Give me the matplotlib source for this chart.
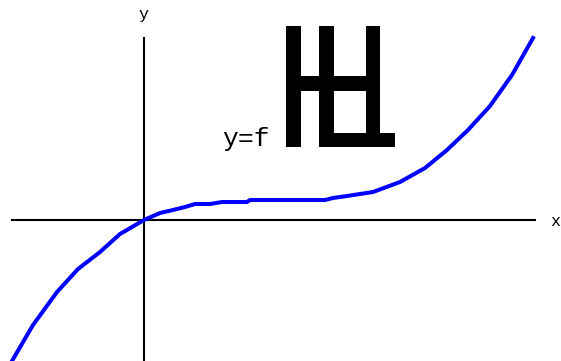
import matplotlib.pyplot as plt
from matplotlib.patches import Rectangle

# curve samples (origin at axes crossing)
curve_x = [-1.32, -1.11, -0.87, -0.66, -0.44, -0.24, 0.0, 0.16, 0.29, 0.41, 0.51,
           0.66, 0.78, 1.03, 1.06, 1.29, 1.81, 1.89, 2.03, 2.29, 2.56, 2.81,
           3.03, 3.24, 3.46, 3.68, 3.89]
curve_y = [-1.41, -1.05, -0.72, -0.49, -0.32, -0.14, 0.0, 0.07, 0.10, 0.13, 0.16,
           0.16, 0.18, 0.18, 0.20, 0.20, 0.20, 0.22, 0.24, 0.28, 0.38, 0.52,
           0.70, 0.90, 1.14, 1.45, 1.82]

x_axis_range = [-1.32, 3.91]
y_axis_range = [-1.41, 1.82]

# big black block glyph: (left, bottom, width, height)
blocks = [
    (1.42, 0.73, 0.15, 1.21),
    (1.42, 1.29, 0.94, 0.15),
    (1.75, 0.73, 0.15, 1.21),
    (2.22, 0.73, 0.14, 1.21),
    (1.75, 0.73, 0.76, 0.14),
]

fig = plt.figure(figsize=(5.61, 3.61), dpi=100)
ax = fig.add_axes([0, 0, 1, 1])
ax.set_xlim(-1.44, 4.17)
ax.set_ylim(-1.41, 2.20)
ax.axis('off')

ax.plot(x_axis_range, [0, 0], color='black', linewidth=1.5)
ax.plot([0, 0], y_axis_range, color='black', linewidth=1.5)
ax.plot(curve_x, curve_y, color='#0000ff', linewidth=2.9, zorder=3)

ax.text(4.11, -0.01, 'x', fontsize=12, family='Liberation Mono', ha='center', va='center')
ax.text(-0.01, 2.06, 'y', fontsize=12, family='Liberation Mono', ha='center', va='center')
ax.text(0.78, 0.74, 'y=f', fontsize=19, family='Liberation Mono', ha='left', va='baseline')

for l, b, w, h in blocks:
    ax.add_patch(Rectangle((l, b), w, h, color='black', linewidth=0, zorder=4))

fig.savefig('out.png', dpi=100)
